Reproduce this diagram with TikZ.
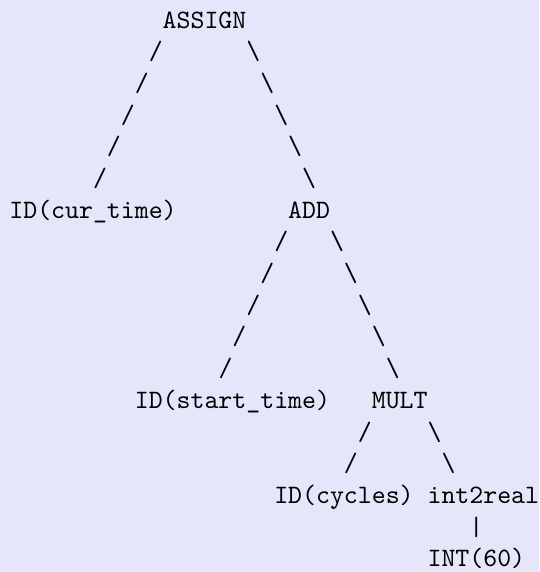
\documentclass[tikz,border=0pt]{standalone}
\usetikzlibrary{calc}
\definecolor{pagebg}{RGB}{230,230,250}
% width of one typewriter cell, in pt (10pt mono scaled by 2.655)
\def\cw{13.94}
% set a piece of verbatim-style text: the 10pt design size, enlarged
\newcommand\bigtt[1]{\scalebox{2.655}{#1}}
\begin{document}
\begin{tikzpicture}[x=1pt,y=1pt,
  ascii/.style={inner sep=0pt, outer sep=0pt, anchor=base west,
    font=\fontsize{10}{12}\selectfont\ttfamily},
]
\fill[pagebg] (0,0) rectangle (539,572);
\useasboundingbox (0,0) rectangle (539,572);

% tree nodes, placed on a monospaced grid: x = 9.4 + col*cw, baseline = 543.7 - row*31.67
\node[ascii] (assign) at ({9.4+11*\cw},{543.7})           {\bigtt{ASSIGN}};
\node[ascii] (cur)    at ({9.4},{543.7-6*31.67})           {\bigtt{ID(cur\_time)}};
\node[ascii] (add)    at ({9.4+20*\cw},{543.7-6*31.67})    {\bigtt{ADD}};
\node[ascii] (start)  at ({9.4+9*\cw},{543.7-12*31.67})    {\bigtt{ID(start\_time)}};
\node[ascii] (mult)   at ({9.4+26*\cw},{543.7-12*31.67})   {\bigtt{MULT}};
\node[ascii] (cyc)    at ({9.4+19*\cw},{543.7-15*31.67})   {\bigtt{ID(cycles)}};
\node[ascii] (i2r)    at ({9.4+30*\cw},{543.7-15*31.67})   {\bigtt{int2real}};
\node[ascii] (int)    at ({9.4+30*\cw},{543.7-17*31.67})   {\bigtt{INT(60)}};

% branches drawn as rows of slash characters
\path (assign.base west) -- ($(cur.base west)+(5*\cw,0)$)
  foreach \k in {1,...,5} {node[ascii,pos=\k/6] {\bigtt{/}}};
\path ($(assign.base east)+(-\cw,0)$) -- ($(add.base west)+(2*\cw,0)$)
  foreach \k in {1,...,5} {node[ascii,pos=\k/6] {\bigtt{\textbackslash}}};
\path (add.base west) -- ($(start.base west)+(5*\cw,0)$)
  foreach \k in {1,...,5} {node[ascii,pos=\k/6] {\bigtt{/}}};
\path ($(add.base west)+(2*\cw,0)$) -- ($(mult.base west)+(2*\cw,0)$)
  foreach \k in {1,...,5} {node[ascii,pos=\k/6] {\bigtt{\textbackslash}}};
\path (mult.base west) -- ($(cyc.base west)+(4*\cw,0)$)
  foreach \k in {1,2} {node[ascii,pos=\k/3] {\bigtt{/}}};
\path ($(mult.base west)+(3*\cw,0)$) -- ($(i2r.base west)+(2*\cw,0)$)
  foreach \k in {1,2} {node[ascii,pos=\k/3] {\bigtt{\textbackslash}}};
\path ($(i2r.base west)+(3*\cw,0)$) -- ($(int.base west)+(3*\cw,0)$)
  node[ascii,pos=0.5] {\bigtt{|}};
\end{tikzpicture}
\end{document}
